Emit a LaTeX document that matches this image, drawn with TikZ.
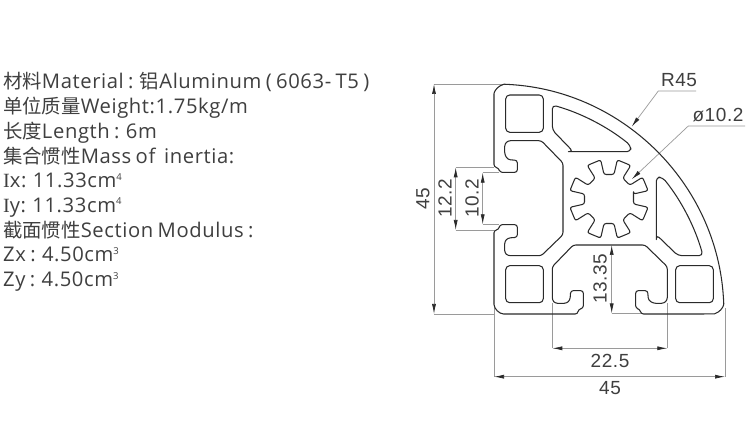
\documentclass[tikz,border=0pt]{standalone}
\usepackage{fontspec}
\setmainfont[LetterSpace=3,WordSpace=0.75]{Open Sans}
\newfontfamily\cjk[Scale=0.96]{Noto Sans CJK SC}
\newfontfamily\dimfont[LetterSpace=3]{Liberation Sans}
\newfontfamily\serifI{Liberation Serif}
\usetikzlibrary{arrows.meta}
\definecolor{ink}{HTML}{2A2A2A}
\definecolor{dimc}{HTML}{9A9A9A}
\newcommand{\sups}[1]{\raisebox{7.5pt}{\fontsize{9.5}{9.5}\selectfont #1}}
\tikzset{
  x=1pt,y=1pt,
  info/.style={anchor=base west,inner sep=0pt,font=\fontsize{20.2}{20.2}\selectfont,text=ink!90},
  prof/.style={draw=ink,line width=1.05pt,line join=round},
  hole/.style={prof,rounded corners=4pt},
  ext/.style={draw=dimc,line width=0.7pt},
  dimarrow/.style={draw=dimc,line width=0.7pt,{Latex[length=10pt,width=4pt,color=ink]}-{Latex[length=10pt,width=4pt,color=ink]}},
  lead/.style={draw=dimc,line width=0.7pt,{Latex[length=10pt,width=4pt,color=ink]}-},
  dimlab/.style={inner sep=0pt,font=\dimfont\fontsize{19}{19}\selectfont,text=ink!90},
}
\newcommand{\curvehole}{(72,162.3) -- (79.3,162.3) -- (58.3,184) -- (58.3,209) arc[start angle=74.4,end angle=51,radius=217pt] -- (137,162.3) -- cycle}
\begin{document}
\begin{tikzpicture}
\fill[white] (0,0) rectangle (750,428);
\useasboundingbox (0,0) rectangle (750,428);
% text block
\node[info] (t1) at (3,339) {{\cjk 材料}Material : {\cjk 铝}Aluminum ( 6063- T5 )};
\node[info] (t2) at (3,314.3) {{\cjk 单位质量}Weight:1.75kg/m};
\node[info] (t3) at (3,289.6) {{\cjk 长度}Length : 6m};
\node[info] (t4) at (3,264.9) {{\cjk 集合惯性}Mass of\ \ inertia:};
\node[info] (t5) at (3,240.2) {{\serifI I}x: 11.33cm\sups{4}};
\node[info] (t6) at (3,215.5) {{\serifI I}y: 11.33cm\sups{4}};
\node[info] (t7) at (3,190.8) {{\cjk 截面惯性}Section Modulus :};
\node[info] (t8) at (3,166.1) {Zx : 4.50cm\sups{3}};
\node[info] (t9) at (3,141.4) {Zy : 4.50cm\sups{3}};
\begin{scope}[shift={(494,114)}]
% named dimension points
\coordinate (topL) at (-60,230);
\coordinate (botL) at (-60,0);
\coordinate (a122) at (-38.3,146.7);
\coordinate (b122) at (-38.3,84);
\coordinate (a102) at (-11.3,141.3);
\coordinate (b102) at (-11.3,89.7);
\coordinate (a135) at (117.7,69);
\coordinate (b135) at (117.7,0.5);
\coordinate (a225) at (58.3,-34.3);
\coordinate (b225) at (173.3,-34.3);
\coordinate (a45) at (0,-62.7);
\coordinate (b45) at (231,-62.7);
\coordinate (rtip) at (137.7,187.3);
\coordinate (rknee) at (164.3,223);
\coordinate (rend) at (202,223);
\coordinate (ptip) at (137.7,134.7);
\coordinate (pknee) at (194.3,188);
\coordinate (pend) at (251,188);
% extension lines
\draw[ext] (topL) -- (12,230);
\draw[ext] (botL) -- (0,0);
\draw[ext] (a122) -- (0,146.7);
\draw[ext] (b122) -- (0,84);
\draw[ext] (a102) -- (5,141.3);
\draw[ext] (b102) -- (5,89.7);
\draw[ext] (b135) -- (147,0.5);
\draw[ext] (a225) -- (58.3,11);
\draw[ext] (b225) -- (173.3,11);
\draw[ext] (a45) -- (0,6);
\draw[ext] (b45) -- (231,6);
% dimension lines
\draw[dimarrow] (topL) -- (botL);
\draw[dimarrow] (a122) -- (b122);
\draw[dimarrow] (a102) -- (b102);
\draw[dimarrow] (a135) -- (b135);
\draw[dimarrow] (a225) -- (b225);
\draw[dimarrow] (a45) -- (b45);
\draw[lead] (rtip) -- (rknee) -- (rend);
\draw[lead] (ptip) -- (pknee) -- (pend);
% dimension labels
\node[dimlab,rotate=90] (l45v) at (-71,115) {45};
\node[dimlab,rotate=90] (l122) at (-49,116) {12.2};
\node[dimlab,rotate=90] (l102) at (-22,116) {10.2};
\node[dimlab,rotate=90] (l135) at (106,35) {13.35};
\node[dimlab] (l225) at (116,-46.7) {22.5};
\node[dimlab] (l45h) at (116,-74) {45};
\node[dimlab] (lr) at (185,234) {R45};
\node[dimlab] (lp) at (224,199) {ø10.2};
% outer contour
\draw[prof,rounded corners=2.5pt]
  (83.7,0) -- (12,0) arc[start angle=-90,end angle=-180,radius=12pt]
  -- (0,83.7) -- (4.7,84.3) -- (5.7,89.3) -- (23.3,89.3) -- (23.3,76.7) -- (14,76) -- (10.7,72.7)
  -- (10.7,61) -- (14,58.3) -- (47.3,58.3) -- (69,79.3) -- (69,151) -- (47.3,173.3) -- (14,173.3)
  -- (10.7,170) -- (10.7,159.3) -- (14,154.3) -- (23.3,153.7) -- (23.3,141.7) -- (5.7,141.7)
  -- (4.7,146) -- (0,147) -- (0,217.67)
  arc[start angle=180,end angle=86.84,radius=12pt]
  arc[start angle=86.84,end angle=3.16,radius=230pt]
  arc[start angle=3.16,end angle=-90,radius=12pt]
  -- (147,0) -- (146,4.7) -- (141.7,5.7) -- (141.7,23.3) -- (153.7,23.3) -- (154.3,14) -- (159.3,10.7)
  -- (170,10.7) -- (173.3,14) -- (173.3,47.3) -- (151,69) -- (79.3,69) -- (58.3,47.3) -- (58.3,14)
  -- (61,10.7) -- (72.7,10.7) -- (76,14) -- (76.7,23.3) -- (89.3,23.3) -- (89.3,5.7) -- (84.3,4.7) -- cycle;
% square holes
\draw[hole] (11.7,11.3) rectangle (49.3,48.3);
\draw[hole] (11.7,181.7) rectangle (49.3,219);
\draw[hole] (181.7,11.3) rectangle (219.3,48.3);
% curved holes
\draw[hole] \curvehole;
\begin{scope}[cm={0,1,1,0,(0,0)}]
\draw[hole] \curvehole;
\end{scope}
% gear bore
\begin{scope}[shift={(115,115)}]
\draw[prof,rounded corners=2.2pt]
  (11.5:25)
  \foreach \a in {0,45,...,315}{
    -- ({\a+11.5}:25) -- ({\a+12}:40) -- ({\a+33}:40) -- ({\a+33.5}:25)
  } -- cycle;
\end{scope}
\end{scope}
\end{tikzpicture}
\end{document}
